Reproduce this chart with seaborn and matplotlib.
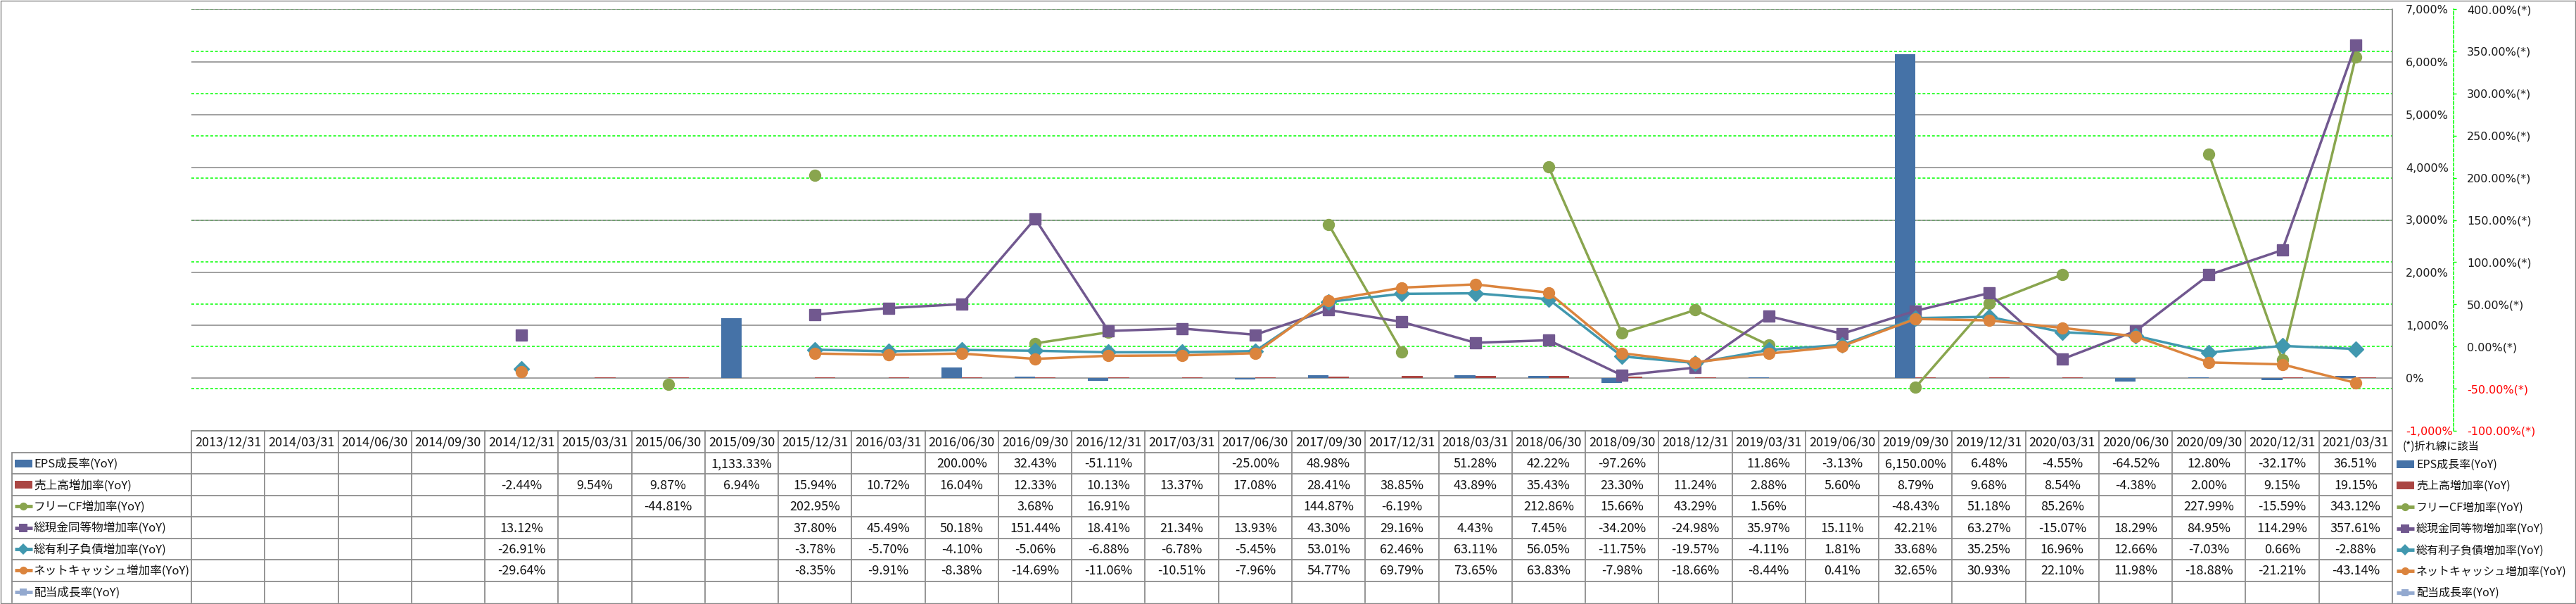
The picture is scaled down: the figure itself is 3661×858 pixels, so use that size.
import numpy as np
import pandas as pd
import matplotlib.pyplot as plt
import matplotlib.transforms as mtransforms
from matplotlib.patches import Rectangle
import seaborn as sns

# ============================================
# Setup
# ============================================
sns.set_style("white")
plt.rcParams["font.family"] = ["Noto Sans CJK JP", "DejaVu Sans"]
JP = ["Noto Sans CJK JP", "DejaVu Sans"]

nan = np.nan

# ============================================
# Data (YoY growth rates, %)
# ============================================
dates = ["2013/12/31", "2014/03/31", "2014/06/30", "2014/09/30",
         "2014/12/31", "2015/03/31", "2015/06/30", "2015/09/30",
         "2015/12/31", "2016/03/31", "2016/06/30", "2016/09/30",
         "2016/12/31", "2017/03/31", "2017/06/30", "2017/09/30",
         "2017/12/31", "2018/03/31", "2018/06/30", "2018/09/30",
         "2018/12/31", "2019/03/31", "2019/06/30", "2019/09/30",
         "2019/12/31", "2020/03/31", "2020/06/30", "2020/09/30",
         "2020/12/31", "2021/03/31"]

eps = [nan, nan, nan, nan, nan, nan, nan, 1133.33,
       nan, nan, 200.00, 32.43, -51.11, nan, -25.00, 48.98,
       nan, 51.28, 42.22, -97.26, nan, 11.86, -3.13, 6150.00,
       6.48, -4.55, -64.52, 12.80, -32.17, 36.51]
sales = [nan, nan, nan, nan, -2.44, 9.54, 9.87, 6.94,
         15.94, 10.72, 16.04, 12.33, 10.13, 13.37, 17.08, 28.41,
         38.85, 43.89, 35.43, 23.30, 11.24, 2.88, 5.60, 8.79,
         9.68, 8.54, -4.38, 2.00, 9.15, 19.15]
fcf = [nan, nan, nan, nan, nan, nan, -44.81, nan,
       202.95, nan, nan, 3.68, 16.91, nan, nan, 144.87,
       -6.19, nan, 212.86, 15.66, 43.29, 1.56, nan, -48.43,
       51.18, 85.26, nan, 227.99, -15.59, 343.12]
cash = [nan, nan, nan, nan, 13.12, nan, nan, nan,
        37.80, 45.49, 50.18, 151.44, 18.41, 21.34, 13.93, 43.30,
        29.16, 4.43, 7.45, -34.20, -24.98, 35.97, 15.11, 42.21,
        63.27, -15.07, 18.29, 84.95, 114.29, 357.61]
debt = [nan, nan, nan, nan, -26.91, nan, nan, nan,
        -3.78, -5.70, -4.10, -5.06, -6.88, -6.78, -5.45, 53.01,
        62.46, 63.11, 56.05, -11.75, -19.57, -4.11, 1.81, 33.68,
        35.25, 16.96, 12.66, -7.03, 0.66, -2.88]
netcash = [nan, nan, nan, nan, -29.64, nan, nan, nan,
           -8.35, -9.91, -8.38, -14.69, -11.06, -10.51, -7.96, 54.77,
           69.79, 73.65, 63.83, -7.98, -18.66, -8.44, 0.41, 32.65,
           30.93, 22.10, 11.98, -18.88, -21.21, -43.14]
dividend = [nan] * len(dates)

names = ["EPS成長率(YoY)", "売上高増加率(YoY)", "フリーCF増加率(YoY)",
         "総現金同等物増加率(YoY)", "総有利子負債増加率(YoY)",
         "ネットキャッシュ増加率(YoY)", "配当成長率(YoY)"]
series = [eps, sales, fcf, cash, debt, netcash, dividend]
colors = ["#4572A7", "#AA4643", "#89A54E", "#71588F", "#4198AF", "#DB843D", "#93A9CF"]
markers = [None, None, "o", "s", "D", "o", "s"]
msizes = [0, 0, 11.5, 12, 11.5, 11.5, 11]

p_ticks = np.arange(-1000, 7001, 1000)
s_ticks = np.arange(-100, 401, 50)

# ============================================
# Figure layout (pixel based, 3661 x 858)
# ============================================
W, H = 3661, 858
fig = plt.figure(figsize=(36.61, 8.58), dpi=100)
fig.patch.set_facecolor("white")

plot_l, plot_r, plot_t, plot_b = 272, 3400, 13, 612
rect = [plot_l / W, 1 - plot_b / H, (plot_r - plot_l) / W, (plot_b - plot_t) / H]
xlim = (-0.5, len(dates) - 0.5)
GRAY = "#868686"
LIME = "#00FF00"
dash = (0, (2.6, 1.8))

# secondary axis (line series scale) - drawn first so its grid is at the back
ax_s = fig.add_axes(rect)
ax_s.set_zorder(0)
ax_s.set_facecolor("white")
ax_s.set_xlim(xlim)
ax_s.set_ylim(-100, 400)
ax_s.set_xticks([])
ax_s.yaxis.tick_right()
ax_s.set_yticks(s_ticks, labels=[f"{t:.2f}%(*)" for t in s_ticks])
ax_s.grid(axis="y", color=LIME, linestyle=dash, linewidth=1.1)
for s in ["left", "top", "bottom"]:
    ax_s.spines[s].set_visible(False)
ax_s.spines["right"].set_position(("outward", 87 * 0.72))
ax_s.spines["right"].set_color(LIME)
ax_s.spines["right"].set_linestyle(dash)
ax_s.spines["right"].set_linewidth(1.1)
ax_s.tick_params(axis="y", direction="out", length=3, width=1, color=LIME,
                 pad=10.8, labelsize=11.5)
for t, lab in zip(s_ticks, ax_s.get_yticklabels()):
    lab.set_fontfamily("DejaVu Sans")
    lab.set_color("red" if t < 0 else "#1a1a1a")

# primary axis (bars)
ax_p = fig.add_axes(rect)
ax_p.set_zorder(1)
ax_p.patch.set_alpha(0)

bar_df = pd.DataFrame({
    "date": dates * 2,
    "series": [names[0]] * len(dates) + [names[1]] * len(dates),
    "value": eps + sales,
}).dropna()
sns.barplot(data=bar_df, x="date", y="value", hue="series", order=dates,
            hue_order=names[:2], palette=colors[:2], width=0.56,
            errorbar=None, saturation=1, linewidth=0, legend=False, ax=ax_p)

ax_p.set_xlim(xlim)
ax_p.set_ylim(-1000, 7000)
ax_p.set_xticks([])
ax_p.set_xlabel("")
ax_p.set_ylabel("")
ax_p.yaxis.tick_right()
ax_p.set_yticks(p_ticks, labels=[f"{t:,}%" for t in p_ticks])
ax_p.set_axisbelow(True)
ax_p.grid(axis="y", color=GRAY, linewidth=1.1)
for s in ax_p.spines.values():
    s.set_visible(False)
ax_p.tick_params(axis="y", length=0, pad=13.7, labelsize=11.5)
for t, lab in zip(p_ticks, ax_p.get_yticklabels()):
    lab.set_fontfamily("DejaVu Sans")
    lab.set_color("red" if t < 0 else "#1a1a1a")

# line series on the secondary scale
ax_l = fig.add_axes(rect)
ax_l.set_zorder(2)
ax_l.patch.set_alpha(0)
ax_l.set_xlim(xlim)
ax_l.set_ylim(-100, 400)
ax_l.axis("off")
x = np.arange(len(dates))
for k in range(2, 7):
    ax_l.plot(x, series[k], color=colors[k], linewidth=2.5, marker=markers[k],
              markersize=msizes[k], markerfacecolor=colors[k],
              markeredgecolor=colors[k], markeredgewidth=1, clip_on=False)

# ============================================
# Data table below the plot
# ============================================
ax_t = fig.add_axes([0, 0, 1, 1])
ax_t.set_zorder(3)
ax_t.patch.set_alpha(0)
ax_t.set_xlim(0, W)
ax_t.set_ylim(H, 0)
ax_t.axis("off")
trans = mtransforms.blended_transform_factory(ax_p.transData, ax_t.transData)

head_top, head_bot, tab_bot = 612, 643, 856
row_h = (tab_bot - head_bot) / len(names)
row_c = [head_bot + row_h * (k + 0.5) for k in range(len(names))]
LINE = "#8c8c8c"

# horizontal lines
ax_t.plot([xlim[0], xlim[1]], [head_top, head_top], color=LINE, lw=1.3, transform=trans)
for k in range(len(names)):
    yy = head_bot + row_h * k
    ax_t.plot([17, plot_r], [yy, yy], color=LINE, lw=1.3)
# vertical lines
for i in range(len(dates) + 1):
    xb = i - 0.5
    top = plot_t if i == len(dates) else head_top
    ax_t.plot([xb, xb], [top, tab_bot], color=LINE, lw=1.3, transform=trans)
ax_t.plot([17, 17], [head_bot, tab_bot], color=LINE, lw=1.3)

# header dates
for i, d in enumerate(dates):
    ax_t.text(i, (head_top + head_bot) / 2 + 1, d, transform=trans, ha="center",
              va="center", fontsize=13, family=JP, color="#111111")

# cell values
for k, vals in enumerate(series):
    for i, v in enumerate(vals):
        if not np.isnan(v):
            ax_t.text(i, row_c[k] + 1, f"{v:,.2f}%", transform=trans, ha="center",
                      va="center", fontsize=13, family=JP, color="#111111")


def draw_key(ax, x0, yc, k):
    if markers[k] is None:
        ax.add_patch(Rectangle((x0, yc - 5.5), 25, 11, color=colors[k], lw=0))
    else:
        ax.plot([x0, x0 + 25], [yc, yc], color=colors[k], lw=3.5, solid_capstyle="butt")
        ax.plot([x0 + 12.5], [yc], marker=markers[k], color=colors[k],
                markersize=msizes[k] * 0.7, markeredgewidth=0)


# row labels with keys, and the side legend
for k, nm in enumerate(names):
    draw_key(ax_t, 21, row_c[k], k)
    ax_t.text(48, row_c[k] + 1, nm, ha="left", va="center", fontsize=12,
              family=JP, color="#111111")
    draw_key(ax_t, 3406, row_c[k] + 1, k)
    ax_t.text(3434, row_c[k] + 2, nm, ha="left", va="center", fontsize=11.5,
              family=JP, color="#111111")

ax_t.text(3415, 634, "(*)折れ線に該当", ha="left", va="center", fontsize=11,
          family=JP, color="#111111")

# outer border
ax_t.add_patch(Rectangle((0.5, 0.5), W - 1.5, H - 1.5, fill=False,
                         edgecolor=GRAY, lw=1, clip_on=False))

plt.savefig("out.png", dpi=100, facecolor="white")
